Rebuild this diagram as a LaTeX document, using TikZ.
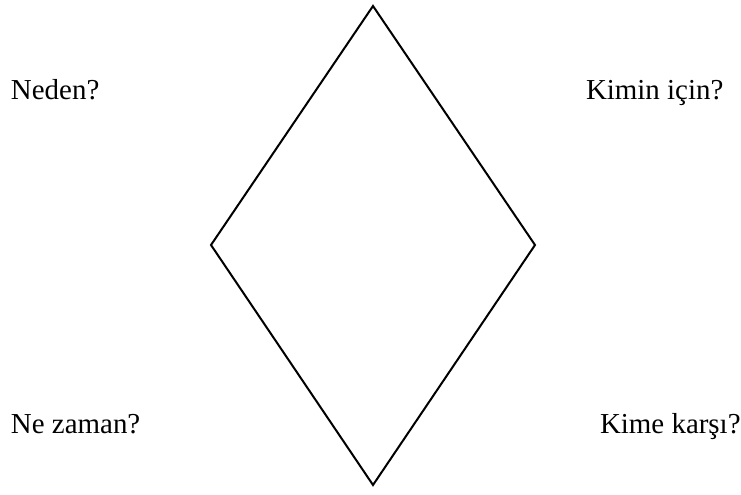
\documentclass[tikz,border=0pt]{standalone}
\usepackage{fontspec}
\setmainfont{Liberation Serif}
\usepackage{tikz}
\usetikzlibrary{positioning}

\begin{document}
\begin{tikzpicture}[x=0.75pt, y=-0.75pt, line width=1.5pt,
    soru/.style={anchor=base west, inner sep=0pt, font=\fontsize{21.7}{26}\selectfont}]
  \useasboundingbox (0,0) rectangle (741,495);

  % Köşeler
  \coordinate (ust) at (373,6);
  \coordinate (sag) at (535,245);
  \coordinate (alt) at (373,485);
  \coordinate (sol) at (211,245);

  % Eşkenar dörtgen
  \draw[line join=miter] (ust) -- (sag) -- (alt) -- (sol) -- cycle;

  % Sorular
  \node[soru] (neden) at (10,100) {Neden?};
  \node[soru] (kiminicin) at (585,100) {Kimin için?};
  \node[soru] (nezaman) at (10,433) {Ne zaman?};
  \node[soru] (kimekarsi) at (599,433) {Kime karşı?};
\end{tikzpicture}
\end{document}
